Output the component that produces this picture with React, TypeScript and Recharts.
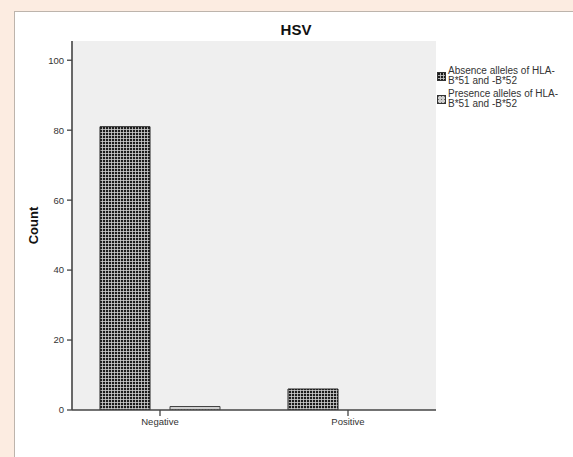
import React from 'react';
import { BarChart, Bar, XAxis, YAxis, CartesianGrid } from 'recharts';

const categories = ['Negative', 'Positive'];
const absenceValues = [81, 6];
const presenceValues = [1, 0];
const yTicks = [0, 20, 40, 60, 80, 100];
const chartTitle = 'HSV';
const yLabel = 'Count';
const legendItems = [
  { key: 'absence', lines: ['Absence alleles of HLA-', 'B*51 and -B*52'], fill: 'url(#pAbs)' },
  { key: 'presence', lines: ['Presence alleles of HLA-', 'B*51 and -B*52'], fill: 'url(#pPre)' },
];

const data = categories.map((c, i) => ({ cat: c, absence: absenceValues[i], presence: presenceValues[i] }));

const FONT = 'Arial, "Liberation Sans", Helvetica, sans-serif';
const Y_DOMAIN: [number, number] = [0, 105.5];

const Patterns = () => (
  <svg width={0} height={0} style={{ position: 'absolute' }}>
    <defs>
      <pattern id="pAbs" width={3} height={3} patternUnits="userSpaceOnUse">
        <rect width={3} height={3} fill="#1c1c1c" />
        <path d="M0 0.5H3M0.5 0V3" stroke="#d0d0d0" strokeWidth={0.8} />
      </pattern>
      <pattern id="pPre" width={3} height={3} patternUnits="userSpaceOnUse">
        <rect width={3} height={3} fill="#cfcfcf" />
        <rect x={1} y={1} width={1} height={1} fill="#6a6a6a" />
      </pattern>
    </defs>
  </svg>
);

const CountLabel = (props: any) => {
  const vb = props.viewBox || { x: 0, y: 0, width: 0, height: 0 };
  const cx = vb.x + 11;
  const cy = vb.y + vb.height / 2;
  return (
    <text
      x={cx}
      y={cy}
      transform={`rotate(-90 ${cx} ${cy})`}
      textAnchor="middle"
      dominantBaseline="central"
      fontFamily={FONT}
      fontWeight="bold"
      fontSize={13}
      fill="#111"
    >
      {yLabel}
    </text>
  );
};

export default function App() {
  return (
    <div
      style={{
        position: 'absolute',
        left: 0,
        top: 0,
        width: 573,
        height: 457,
        overflow: 'hidden',
        background: '#fcece1',
        fontFamily: FONT,
      }}
    >
      <Patterns />
      <div
        style={{
          position: 'absolute',
          left: 14,
          top: 11,
          width: 620,
          height: 500,
          background: '#ffffff',
          borderLeft: '1px solid #bdb4ac',
          borderTop: '1px solid #bdb4ac',
        }}
      />
      <div style={{ position: 'absolute', left: 0, top: 0 }}>
        <BarChart
          width={573}
          height={457}
          data={data}
          margin={{ top: 41, right: 137, bottom: 17, left: 22 }}
          barSize={50}
          barGap={20}
        >
          <CartesianGrid horizontal={false} vertical={false} fill="#efefef" />
          <XAxis
            dataKey="cat"
            padding={{ left: -6, right: -6 }}
            height={30}
            tickSize={6}
            tickMargin={2}
            axisLine={{ stroke: '#444', strokeWidth: 1.6 }}
            tickLine={{ stroke: '#444', strokeWidth: 1.3 }}
            tick={{ fontSize: 9.5, fill: '#333', fontFamily: FONT }}
          />
          <XAxis
            xAxisId="top"
            dataKey="cat"
            orientation="top"
            height={0}
            tick={false}
            tickLine={false}
            axisLine={{ stroke: '#777', strokeWidth: 1.6 }}
          />
          <YAxis
            type="number"
            domain={Y_DOMAIN}
            ticks={yTicks}
            allowDataOverflow
            width={50}
            tickSize={5}
            tickMargin={3}
            axisLine={{ stroke: '#444', strokeWidth: 1.6 }}
            tickLine={{ stroke: '#444', strokeWidth: 1.3 }}
            tick={{ fontSize: 9.5, fill: '#333', fontFamily: FONT }}
            label={<CountLabel />}
          />
          <YAxis
            yAxisId="right"
            orientation="right"
            type="number"
            domain={Y_DOMAIN}
            width={0}
            tick={false}
            tickLine={false}
            axisLine={{ stroke: '#777', strokeWidth: 1.6 }}
          />
          <Bar dataKey="absence" fill="url(#pAbs)" stroke="#222" strokeWidth={1} isAnimationActive={false} />
          <Bar dataKey="presence" fill="url(#pPre)" stroke="#444" strokeWidth={1} isAnimationActive={false} />
        </BarChart>
      </div>
      <div
        style={{
          position: 'absolute',
          left: 246,
          top: 22,
          width: 100,
          textAlign: 'center',
          fontSize: 15,
          lineHeight: '15px',
          fontWeight: 'bold',
          color: '#111',
        }}
      >
        {chartTitle}
      </div>
      <div style={{ position: 'absolute', left: 437, top: 66 }}>
        {legendItems.map((item) => (
          <div key={item.key} style={{ display: 'flex', alignItems: 'center', marginBottom: 3 }}>
            <svg width={11} height={9} style={{ flex: 'none' }}>
              <rect x={0.5} y={0.5} width={8} height={8} fill={item.fill} stroke="#333" strokeWidth={1} />
            </svg>
            <div style={{ fontSize: 10, lineHeight: '10px', color: '#333', whiteSpace: 'nowrap' }}>
              {item.lines.map((l, i) => (
                <div key={i}>{l}</div>
              ))}
            </div>
          </div>
        ))}
      </div>
    </div>
  );
}
